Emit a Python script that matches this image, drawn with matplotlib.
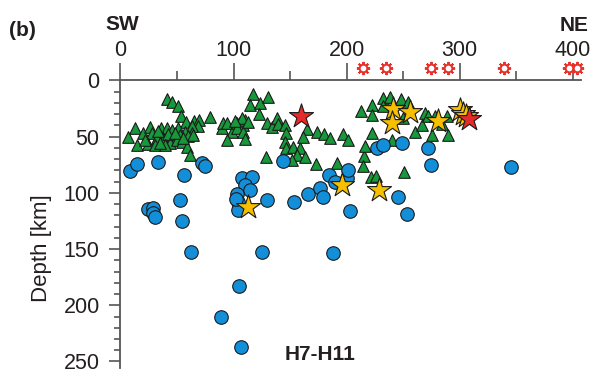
"""
Cross-section H7-H11: hypocentre depth along SW-NE profile
"""

import matplotlib.pyplot as plt
from matplotlib.ticker import MultipleLocator

plt.rcParams['font.family'] = ['Liberation Sans', 'DejaVu Sans']

# Distance along profile [km] and depth [km]
tri_dist = [40.7, 46.0, 51.1, 53.1, 57.9, 65.0, 69.4, 79.1, 68.8, 63.0,
            6.9, 12.8, 20.2, 26.1, 28.3, 35.8, 40.9, 45.3, 51.1, 57.0,
            63.0, 59.9, 37.3, 46.7, 52.6, 64.4, 32.0, 14.3, 24.6, 30.5,
            37.8, 43.8, 49.7, 54.1, 58.5, 61.5, 33.2, 42.0, 48.2, 55.3,
            39.3, 34.9, 21.7,
            89.5, 90.9, 93.9, 98.3, 94.6, 102.7, 105.7, 108.6, 110.1, 102.7,
            108.6, 110.1, 107.2, 113.0, 101.2,
            117.4, 114.5, 123.6, 130.7, 122.7, 129.3, 134.0, 138.1, 139.5, 145.5,
            146.8, 145.9, 146.6, 152.8, 158.7, 155.8, 163.1, 151.4, 128.5, 164.6,
            161.6, 173.5, 180.4, 185.2, 197.0, 201.4, 173.3, 191.4, 215.1, 214.7,
            221.1, 225.5, 250.4,
            212.8, 222.6, 222.8, 231.7, 238.3, 248.0, 254.5, 231.7, 250.1, 260.4,
            266.3, 269.2, 272.2, 278.1, 275.2, 289.8, 289.1, 284.0, 222.6, 216.2,
            240.5]
tri_depth = [16.9, 19.6, 23.1, 31.6, 36.7, 36.0, 34.9, 32.5, 40.5, 40.5,
             50.0, 42.5, 46.7, 41.1, 46.7, 42.0, 42.5, 44.0, 42.5, 45.6,
             47.0, 49.4, 51.4, 50.0, 48.5, 48.5, 51.4, 57.4, 56.8, 57.4,
             52.9, 55.2, 52.9, 54.7, 58.9, 66.3, 44.9, 47.6, 46.7, 51.2,
             57.4, 55.6, 52.9,
             42.5, 38.1, 38.1, 45.6, 52.9, 38.1, 36.7, 39.6, 35.1, 42.5,
             45.6, 51.8, 33.6, 36.7, 36.0,
             11.7, 21.4, 19.8, 14.7, 30.2, 37.8, 41.1, 33.6, 39.0, 39.6,
             47.0, 54.5, 60.3, 58.9, 60.3, 66.3, 68.1, 70.7, 68.1, 43.0,
             50.7, 45.8, 48.0, 51.4, 47.6, 52.9, 74.7, 73.4, 67.3, 76.5,
             86.0, 85.3, 81.1,
             27.4, 21.8, 30.4, 15.8, 14.4, 16.2, 18.9, 22.5, 33.6, 45.8,
             39.6, 29.2, 31.6, 31.6, 48.5, 48.5, 31.6, 38.7, 47.0, 58.5,
             53.4]

circ_dist = [8.4, 14.3, 33.4, 71.8, 74.7, 56.1, 107.7, 116.0, 110.1, 114.9,
             102.7, 104.2, 104.2, 102.1, 52.6, 129.5, 24.6, 29.0, 29.0, 30.5,
             54.1, 62.1, 124.8, 88.6, 104.8, 106.3, 188.2, 202.9, 144.0, 153.4,
             166.1, 176.4, 179.3, 184.6, 189.7, 200.5, 201.4, 245.1, 253.1, 274.3,
             226.5, 232.1, 248.6, 272.2, 345.0]
circ_depth = [80.5, 74.3, 72.2, 73.0, 76.1, 84.1, 86.5, 85.6, 93.4, 97.4,
              101.4, 107.8, 115.2, 105.4, 106.3, 106.3, 114.3, 113.7, 118.1, 121.2,
              125.0, 152.3, 152.8, 210.1, 182.8, 236.8, 153.7, 116.1, 71.6, 107.8,
              101.4, 95.9, 103.9, 84.5, 90.0, 86.5, 79.6, 103.9, 118.8, 75.2,
              59.8, 57.4, 55.9, 60.1, 77.2]

ystar_dist = [113.0, 195.9, 228.3, 241.0, 256.0, 240.1, 281.0, 300.6, 303.3, 305.5]
ystar_depth = [112.8, 93.4, 97.4, 25.6, 27.8, 37.8, 36.0, 26.7, 29.4, 32.0]

rstar_dist = [159.3, 308.6]
rstar_depth = [31.3, 34.7]

volc_dist = [214.7, 234.5, 274.5, 289.8, 339.3, 396.8, 403.9]
volc_depth = -11

fig = plt.figure(figsize=(5.97, 3.83), dpi=100)
ax = fig.add_axes([0.2018, 0.0392, 0.7714, 0.7507])

ax.scatter(tri_dist, tri_depth, marker='^', s=70, c='#17993b',
           edgecolors='#1a1a1a', linewidths=0.8, zorder=3, clip_on=False)
ax.scatter(circ_dist, circ_depth, marker='o', s=95, c='#138fd9',
           edgecolors='#1a1a1a', linewidths=0.8, zorder=4)
ax.scatter(ystar_dist, ystar_depth, marker='*', s=330, c='#f6c000',
           edgecolors='#1a1a1a', linewidths=0.8, zorder=5)
ax.scatter(rstar_dist, rstar_depth, marker='*', s=330, c='#e42a2a',
           edgecolors='#1a1a1a', linewidths=0.8, zorder=6)

# volcanoes above the profile
ax.plot(volc_dist, [volc_depth] * len(volc_dist), ls='none', marker=(8, 2, 0),
        ms=9.5, mec='#e8302a', mew=1.4, clip_on=False, zorder=6)
ax.plot(volc_dist, [volc_depth] * len(volc_dist), ls='none', marker='o',
        ms=5.5, mfc='white', mec='#e8302a', mew=1.4, clip_on=False, zorder=7)

ax.set_xlim(0, 407.2)
ax.set_ylim(255.8, 0)

for side in ['right', 'bottom']:
    ax.spines[side].set_visible(False)
for side in ['top', 'left']:
    ax.spines[side].set_color('#555555')
    ax.spines[side].set_linewidth(1.3)

ax.xaxis.tick_top()
ax.xaxis.set_major_locator(MultipleLocator(100))
ax.xaxis.set_minor_locator(MultipleLocator(50))
ax.yaxis.set_major_locator(MultipleLocator(50))
ax.yaxis.set_minor_locator(MultipleLocator(10))

ax.tick_params(axis='x', which='major', length=12, width=1.2, pad=2,
               color='#555555', labelsize=15.5, labelcolor='#231f20')
ax.tick_params(axis='x', which='minor', length=6.5, width=1.2, color='#555555')
ax.tick_params(axis='y', which='major', length=8, width=1.2, pad=7,
               color='#555555', labelsize=15.5, labelcolor='#231f20')
ax.tick_params(axis='y', which='minor', length=4.3, width=1.2, color='#555555')

ax.set_ylabel('Depth [km]', fontsize=16, color='#231f20')
ax.yaxis.set_label_coords(-0.149, 0.416)

fig.text(22 / 597, 1 - 31 / 383, '(b)', fontsize=15, fontweight='bold',
         ha='center', va='center', color='#231f20')
fig.text(122 / 597, 1 - 25 / 383, 'SW', fontsize=15, fontweight='bold',
         ha='center', va='center', color='#231f20')
fig.text(574.5 / 597, 1 - 25.5 / 383, 'NE', fontsize=15, fontweight='bold',
         ha='center', va='center', color='#231f20')
fig.text(320.5 / 597, 1 - 355 / 383, 'H7-H11', fontsize=15, fontweight='bold',
         ha='center', va='center', color='#231f20')

fig.savefig('out.png', dpi=100)
